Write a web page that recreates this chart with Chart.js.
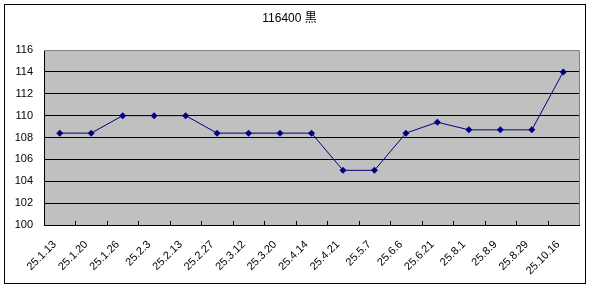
<!DOCTYPE html>
<html><head><meta charset="utf-8">
<script src="https://cdn.jsdelivr.net/npm/chart.js@4/dist/chart.umd.min.js"></script>
<style>html,body{margin:0;padding:0;background:#fff}#wrap{width:592px;height:288px}</style>
</head><body><div id="wrap"><canvas id="c" width="592" height="288"></canvas></div>
<script>
const titleText = "116400 黒";
const categories = ["25.1.13","25.1.20","25.1.26","25.2.3","25.2.13","25.2.27","25.3.12","25.3.20","25.4.14","25.4.21","25.5.7","25.6.6","25.6.21","25.8.1","25.8.9","25.8.29","25.10.16"];
const prices = [108.4,108.4,110,110,110,108.4,108.4,108.4,108.4,105,105,108.4,109.4,108.7,108.7,108.7,114];
const yMin = 100, yMax = 116, yStep = 2;

const FONT = "'Liberation Sans Narrow','Liberation Sans','Noto Sans CJK JP',sans-serif";

const framePlugin = {
  id: 'frame',
  beforeDraw(chart) {
    const {ctx, chartArea: a} = chart;
    ctx.save();
    ctx.fillStyle = '#fff';
    ctx.fillRect(0, 0, chart.width, chart.height);
    ctx.fillStyle = '#C0C0C0';
    ctx.fillRect(a.left, a.top, a.right - a.left, a.bottom - a.top);
    ctx.restore();
  },
  afterDraw(chart) {
    const {ctx, chartArea: a} = chart;
    const xs = chart.scales.x;
    ctx.save();
    ctx.strokeStyle = '#808080';
    ctx.lineWidth = 1;
    ctx.beginPath();
    ctx.moveTo(a.left, a.top + 0.5); ctx.lineTo(a.right + 0.5, a.top + 0.5);
    ctx.lineTo(a.right + 0.5, a.bottom);
    ctx.stroke();
    ctx.strokeStyle = '#000';
    ctx.beginPath();
    for (let i = 1; i < categories.length; i++) {
      const x = Math.round((xs.getPixelForValue(i - 1) + xs.getPixelForValue(i)) / 2) + 0.5;
      ctx.moveTo(x, a.bottom); ctx.lineTo(x, a.bottom - 4);
    }
    ctx.stroke();
    ctx.strokeRect(4.5, 4.5, 581, 279);
    ctx.restore();
  }
};

new Chart(document.getElementById('c'), {
  type: 'line',
  data: {
    labels: categories,
    datasets: [{
      data: prices,
      borderColor: '#000080',
      backgroundColor: '#000080',
      borderWidth: 1,
      pointStyle: 'rectRot',
      pointRadius: 3.5,
      pointHoverRadius: 3.5,
      pointBorderWidth: 0,
      tension: 0,
      fill: false
    }]
  },
  options: {
    responsive: false,
    animation: false,
    devicePixelRatio: 1,
    layout: { padding: { left: 0, right: 13, top: 0, bottom: 0 } },
    plugins: {
      legend: { display: false },
      tooltip: { enabled: false },
      title: {
        display: true,
        text: titleText,
        color: '#000',
        font: { family: FONT, size: 12, weight: 'normal', lineHeight: 1.2 },
        padding: { top: 11, bottom: 24.6 }
      }
    },
    scales: {
      x: {
        offset: true,
        grid: { display: false, drawTicks: false },
        border: { display: true, color: '#000', width: 1 },
        ticks: {
          color: '#000',
          font: { family: FONT, size: 11 },
          maxRotation: 45, minRotation: 45,
          autoSkip: false,
          padding: 13,
          labelOffset: -5
        },
        afterFit(s) { s.height = 63; }
      },
      y: {
        min: yMin, max: yMax,
        grid: {
          color: (c) => (c.tick && c.tick.value === yMax) ? '#808080' : '#000',
          lineWidth: 1,
          drawTicks: false
        },
        border: { display: true, color: '#000', width: 1 },
        ticks: {
          stepSize: yStep,
          color: '#000',
          font: { family: FONT, size: 11 },
          padding: 11
        },
        afterFit(s) { s.width = 44; }
      }
    }
  },
  plugins: [framePlugin]
});
</script>
</body></html>
